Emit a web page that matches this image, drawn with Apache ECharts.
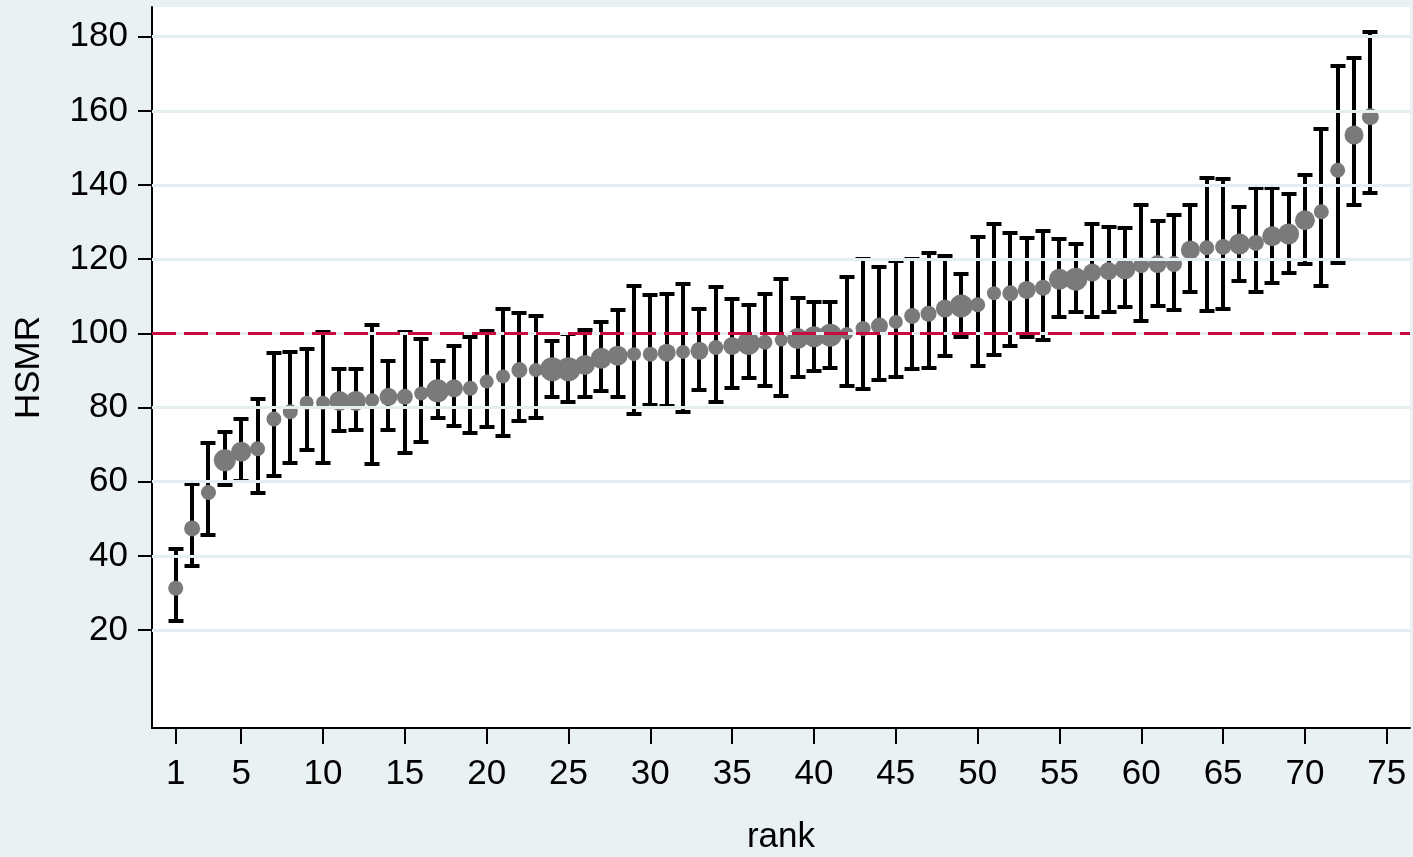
<!DOCTYPE html>
<html>
<head>
<meta charset="utf-8">
<script src="https://cdn.jsdelivr.net/npm/echarts@6/dist/echarts.min.js"></script>
<style>
  html, body { margin: 0; padding: 0; background: #e9f1f3; }
  #chart { width: 1413px; height: 857px; }
</style>
</head>
<body>
<div id="chart"></div>
<script>
// Hospital standardised mortality ratio by rank, with 95% confidence limits
const ranks = Array.from({ length: 74 }, (_, i) => i + 1);
const hsmr = [
  31.3, 47.4, 57.1, 65.8, 68.1, 68.9, 76.9, 78.9, 81.3, 81.3,
  81.8, 81.8, 82.0, 82.9, 82.9, 83.8, 84.5, 85.2, 85.2, 87.0,
  88.4, 90.1, 90.1, 90.3, 90.3, 91.5, 93.3, 94.0, 94.4, 94.4,
  94.8, 95.0, 95.3, 96.2, 96.6, 97.3, 97.6, 98.2, 98.6, 99.1,
  99.5, 100.0, 101.3, 102.0, 103.1, 104.7, 105.3, 106.7, 107.4, 107.7,
  110.8, 110.8, 111.7, 112.3, 114.6, 114.6, 116.4, 116.8, 117.4, 118.4,
  118.7, 118.7, 122.5, 123.1, 123.3, 124.1, 124.4, 126.2, 126.8, 130.5,
  132.8, 144.0, 153.5, 158.4
];
const upper = [
  41.9, 59.5, 70.4, 73.5, 76.9, 82.4, 94.8, 95.0, 95.7, 100.3,
  90.3, 90.3, 102.2, 92.5, 100.3, 98.4, 92.5, 96.7, 98.9, 100.6,
  106.7, 105.6, 104.7, 98.0, 99.9, 100.8, 103.0, 106.4, 112.9, 110.4,
  110.5, 113.3, 106.5, 112.4, 109.2, 107.6, 110.5, 114.6, 109.6, 108.5,
  108.5, 115.3, 120.0, 117.9, 119.6, 120.0, 121.6, 120.8, 115.9, 125.9,
  129.4, 127.1, 125.6, 127.7, 125.5, 124.0, 129.4, 128.7, 128.4, 134.7,
  130.4, 131.8, 134.7, 141.9, 141.5, 134.2, 139.1, 139.1, 137.5, 142.7,
  155.0, 172.2, 174.2, 181.2
];
const lower = [
  22.5, 37.3, 45.6, 59.0, 60.2, 57.0, 61.6, 65.1, 68.5, 65.1,
  73.7, 73.9, 64.7, 73.9, 67.8, 70.7, 77.2, 74.9, 73.2, 74.7,
  72.4, 76.4, 77.2, 82.8, 81.5, 82.8, 84.4, 82.8, 78.3, 80.8,
  80.5, 78.8, 84.7, 81.5, 85.4, 88.0, 85.9, 83.2, 88.3, 89.8,
  90.6, 85.9, 84.9, 87.3, 88.3, 90.3, 90.7, 94.0, 98.9, 91.3,
  94.1, 96.6, 98.9, 98.1, 104.4, 105.7, 104.3, 105.7, 107.0, 103.4,
  107.4, 106.3, 111.1, 105.9, 106.6, 114.1, 111.1, 113.6, 116.3, 118.8,
  112.9, 119.0, 134.7, 137.9
];
// relative weight of each hospital, shown as marker diameter
const weight = [
  12, 13, 12, 19, 17, 12, 12, 12, 11, 11,
  17, 17, 11, 15, 13, 11, 20, 15, 12, 11,
  11, 13, 11, 21, 21, 17, 18, 17, 11, 12,
  15, 11, 15, 12, 15, 20, 12, 10, 18, 18,
  20, 10, 12, 14, 11, 13, 13, 15, 20, 12,
  11, 13, 15, 13, 18, 20, 15, 15, 18, 13,
  15, 13, 16, 12, 13, 18, 13, 17, 18, 17,
  12, 12, 16, 14
];
const xTicks = [1, 5, 10, 15, 20, 25, 30, 35, 40, 45, 50, 55, 60, 65, 70, 75];
const yTicks = [20, 40, 60, 80, 100, 120, 140, 160, 180];
const reference = 100;

const FONT = 'Liberation Sans, Arial, sans-serif';
const FONT_SIZE = 35;
const bg = '#e9f1f3';
const gridColor = '#e4edf0';

const intervals = ranks.map((r, i) => [r, lower[i], upper[i]]);
const points = ranks.map((r, i) => [r, hsmr[i], weight[i]]);

const chart = echarts.init(document.getElementById('chart'), null, { renderer: 'canvas' });
chart.setOption({
  backgroundColor: bg,
  animation: false,
  grid: {
    left: 152, right: 3, top: 7, bottom: 129,
    outerBoundsMode: 'none',
    containLabel: false,
    show: true, backgroundColor: '#ffffff', borderWidth: 0
  },
  xAxis: {
    type: 'value',
    min: -0.45, max: 76.42,
    name: 'rank',
    nameLocation: 'middle',
    nameGap: 92,
    nameTextStyle: { fontFamily: FONT, fontSize: FONT_SIZE, color: '#000' },
    axisLine: { show: true, onZero: false, lineStyle: { color: '#000', width: 2 } },
    axisTick: { show: true, length: 16, customValues: xTicks, lineStyle: { color: '#000', width: 2 } },
    axisLabel: { customValues: xTicks, margin: 29, fontFamily: FONT, fontSize: FONT_SIZE, color: '#000' },
    splitLine: { show: false }
  },
  yAxis: {
    type: 'value',
    min: -6.4, max: 188,
    name: 'HSMR',
    nameLocation: 'middle',
    nameGap: 105,
    nameTextStyle: { fontFamily: FONT, fontSize: FONT_SIZE, color: '#000' },
    axisLine: { show: true, onZero: false, lineStyle: { color: '#000', width: 2 } },
    axisTick: { show: true, length: 14, customValues: yTicks, lineStyle: { color: '#000', width: 2 } },
    axisLabel: { customValues: yTicks, margin: 24, fontFamily: FONT, fontSize: FONT_SIZE, color: '#000' },
    splitLine: { show: false }
  },
  series: [
    {
      // horizontal grid lines and the reference ratio
      type: 'line',
      data: [],
      silent: true,
      markLine: {
        symbol: 'none',
        silent: true,
        label: { show: false },
        data: yTicks.map(v => ({ yAxis: v, lineStyle: { color: gridColor, width: 3, type: 'solid' } }))
          .concat([{ yAxis: reference, lineStyle: { color: '#c80a3c', width: 3, type: [24, 8] } }])
      }
    },
    {
      // confidence interval whiskers with end caps
      type: 'custom',
      data: intervals,
      z: 3,
      renderItem: function (params, api) {
        const x = Math.round(api.coord([api.value(0), 0])[0]);
        const yLo = Math.round(api.coord([api.value(0), api.value(1)])[1]);
        const yHi = Math.round(api.coord([api.value(0), api.value(2)])[1]);
        const cap = 7.5;
        const style = { stroke: '#000', lineWidth: 4, fill: null };
        return {
          type: 'group',
          children: [
            { type: 'line', shape: { x1: x, y1: yLo, x2: x, y2: yHi }, style: style },
            { type: 'line', shape: { x1: x - cap, y1: yHi, x2: x + cap, y2: yHi }, style: style },
            { type: 'line', shape: { x1: x - cap, y1: yLo, x2: x + cap, y2: yLo }, style: style }
          ]
        };
      }
    },
    {
      type: 'scatter',
      data: points,
      z: 4,
      symbol: 'circle',
      symbolSize: function (val) { return val[2] + 3; },
      itemStyle: { color: '#7a7a7a', opacity: 1 }
    }
  ]
});
</script>
</body>
</html>
